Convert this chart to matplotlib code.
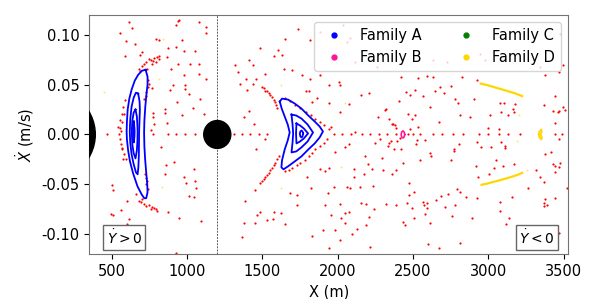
import matplotlib
matplotlib.use("Agg")
import matplotlib.pyplot as plt
from matplotlib.patches import Ellipse
from matplotlib.lines import Line2D

# bodies (x centre in m, half width in m, half height in m/s)
primary = (0, 390, 0.051)
secondary = (1200, 90, 0.014)

# chaotic sea, upper half (x m, xdot m/s)
chaos_up = [
    (613, .113), (637, .107), (551, .102), (591, .094), (653, .091), (697, .083), (586, .079), (684, .080),
    (936, .114), (949, .115), (929, .110), (1077, .113), (1122, .108), (1122, .102), (790, .096), (812, .095),
    (965, .095), (874, .087), (923, .088), (982, .084), (1055, .084), (863, .078), (814, .079),
    (679, .066), (712, .071), (745, .076), (779, .077), (812, .076), (790, .073), (767, .071), (734, .066),
    (700, .069), (725, .073), (757, .075), (800, .078), (690, .064), (770, .074),
    (890, .066), (938, .071), (1016, .071), (1077, .071), (978, .060), (1077, .061), (1122, .056), (767, .047),
    (741, .055), (737, .048), (724, .043), (712, .036), (745, .051), (730, .039),
    (905, .050), (989, .050), (984, .046), (885, .045), (933, .033), (1011, .041), (1082, .036), (1038, .027),
    (852, .026), (852, .022), (774, .022), (774, .018), (967, .020), (1115, .021), (779, .011), (863, .012),
    (757, .004), (580, .021), (568, .013), (553, .006), (562, .003), (542, .008), (553, .015), (564, .021),
    (586, .035), (575, .028), (548, .000),
    (1321, .070), (1338, .063), (1391, .056), (1348, .051), (1398, .045), (1376, .018),
    (1736, .106), (1653, .096), (1814, .095), (1482, .087), (1604, .085), (1630, .080), (1577, .079),
    (1414, .075), (1436, .070), (1646, .066), (1697, .065), (1520, .061), (1763, .060), (1885, .060),
    (1818, .056), (1940, .050), (2006, .053), (2015, .050), (1454, .056), (1438, .051),
    (1497, .048), (1531, .044), (1553, .040), (1575, .035), (1591, .030), (1510, .047), (1542, .042),
    (1564, .038), (1583, .033), (1600, .027), (1520, .044),
    (1790, .044), (1808, .044), (1863, .037), (1830, .033), (1940, .032), (2157, .040), (2205, .042),
    (2017, .023), (2073, .031), (2316, .025), (2410, .034), (2451, .043), (2423, .058), (2338, .016),
    (2383, .010), (2360, .011), (2113, .002), (1442, .011), (1409, .024),
    (1653, .037), (1719, .030), (1786, .023), (1852, .016), (1907, .010), (1940, .005), (1686, .034),
    (1752, .027), (1820, .020), (1880, .013), (1957, .008),
    (2531, .057), (2593, .059), (2633, .058), (2825, .058), (2924, .055), (2682, .048), (2752, .049),
    (2511, .045), (2482, .040), (2564, .039), (2648, .044), (2703, .042), (2781, .036), (2798, .032),
    (2902, .036), (2615, .028), (3080, .032), (3106, .032), (3175, .031), (3164, .026), (3130, .020),
    (3168, .023), (3086, .023), (3013, .020), (2876, .018), (2814, .020), (2515, .020), (2493, .016),
    (2670, .013), (2533, .008), (2997, .007), (3068, .005), (3367, .030), (3427, .024), (3467, .024),
    (3493, .028), (3440, .012), (3471, .063), (3378, .060), (3478, .101), (3440, .039),
    (2367, .011), (2389, .006), (2478, .005), (2500, .000), (2268, .018), (2319, .026), (2467, .021),
    (1880, .103), (2033, .110), (2080, .097), (2060, .093), (2113, .073), (2259, .068), (2630, .075),
    (2723, .073), (2942, .081), (2975, .075), (3341, .068), (3494, .070), (3507, .025), (3460, .023),
]

# chaotic sea, lower half
chaos_down = [
    (553, -.005), (564, -.015), (575, -.025), (560, -.010), (568, -.014), (580, -.020), (591, -.025),
    (823, -.013), (912, -.028), (857, -.031), (852, -.040), (1044, -.035), (982, -.043), (1051, -.047),
    (993, -.049), (1062, -.054), (1011, -.062), (1046, -.063), (498, -.051), (507, -.056), (602, -.067),
    (562, -.076), (491, -.080), (507, -.081), (613, -.085), (602, -.090), (874, -.078), (945, -.084),
    (1089, -.087), (923, -.119), (1387, -.067), (1378, -.089), (1361, -.103),
    (679, -.067), (712, -.070), (745, -.071), (779, -.074), (801, -.077), (757, -.075), (695, -.068),
    (728, -.072), (765, -.073), (790, -.075), (700, -.065),
    (728, -.044), (724, -.050), (741, -.055), (735, -.047), (720, -.040), (657, -.060),
    (1454, -.015), (1520, -.005),
    (1497, -.047), (1520, -.043), (1542, -.039), (1564, -.034), (1586, -.029), (1608, -.022), (1508, -.045),
    (1530, -.041), (1553, -.036), (1575, -.031), (1597, -.025), (1486, -.049),
    (1653, -.037), (1697, -.034), (1752, -.029), (1808, -.022), (1852, -.015), (1907, -.009), (1929, -.005),
    (1675, -.036), (1730, -.031), (1780, -.026), (1830, -.019), (1880, -.012),
    (1980, -.018), (2051, -.013), (2073, -.010), (1449, -.056), (1796, -.043), (1885, -.035), (1940, -.034),
    (1918, -.037), (1825, -.054), (1933, -.059), (1973, -.053), (2062, -.053), (2084, -.054), (2150, -.053),
    (2232, -.052), (2106, -.035), (2106, -.043), (2172, -.040), (2228, -.035), (2301, -.036), (2360, -.040),
    (2389, -.036), (2179, -.022), (2201, -.030), (2293, -.024), (2431, -.029), (2250, -.009), (2338, -.009),
    (2371, -.015), (2393, -.007), (2423, -.015), (2411, -.004), (2356, -.007), (2334, -.012), (2279, -.005),
    (1681, -.059), (1730, -.061), (1730, -.071), (1914, -.071), (2017, -.070), (2155, -.069), (2188, -.070),
    (2243, -.075), (2323, -.070), (2387, -.071), (2460, -.069), (1464, -.081), (1482, -.078), (1580, -.078),
    (1620, -.079), (1527, -.086), (1569, -.085), (1449, -.089), (1653, -.090), (1957, -.081), (2024, -.084),
    (2051, -.079), (2073, -.078), (2128, -.095), (2095, -.100), (2051, -.089), (2205, -.083), (2188, -.091),
    (2433, -.088), (2444, -.091), (1900, -.096), (1980, -.096), (1830, -.102), (2013, -.106), (1940, -.114),
    (2212, -.113),
    (2924, -.008), (2951, -.013), (3020, -.013), (3086, -.008), (3113, -.012), (3108, -.014), (2526, -.006),
    (2520, -.010), (2582, -.006), (2615, -.019), (2622, -.022), (2770, -.015), (2770, -.017), (2808, -.010),
    (2755, -.026), (2544, -.026), (3050, -.026), (2920, -.032), (3035, -.034), (3095, -.032), (3168, -.030),
    (2931, -.043), (3002, -.040), (3316, -.036), (3345, -.043), (3367, -.048), (3378, -.020), (3416, -.018),
    (3433, -.030), (3444, -.032), (3467, -.033), (3478, -.029), (3444, -.038), (3467, -.005), (3522, -.054),
    (3263, -.054), (3157, -.063), (3075, -.068), (3075, -.077), (3378, -.065), (3367, -.069), (3393, -.071),
    (3373, -.072), (3444, -.064), (2792, -.055), (2814, -.058), (2854, -.063), (2924, -.064), (2732, -.060),
    (2688, -.062), (2655, -.066), (2471, -.061), (2504, -.058), (2564, -.068), (2593, -.069), (2571, -.071),
    (2593, -.074), (2493, -.074), (2577, -.080), (2715, -.073), (2777, -.071), (2759, -.082), (2891, -.084),
    (2504, -.084), (2615, -.089), (3139, -.084), (3117, -.090), (2597, -.110), (2670, -.114), (2814, -.109),
    (3467, -.099), (2471, -.049),
]

# points of the sea that sit on xdot = 0
chaos_axis_x = [465, 770, 870, 925, 985, 1051, 1117, 1310, 1365, 1420, 1475, 1527, 1975, 2031, 2091,
                2164, 2217, 2274, 2327, 2389, 2469, 2546, 2635, 2690, 2763, 2835, 2935, 3001, 3068,
                3134, 3211, 3443, 3488]

# Family A: closed curves around the two islands
famA_loops = [
    [(724, .065), (737, .058), (737, .050), (730, .041), (722, .028), (716, .014), (714, .002),
     (716, -.012), (721, -.025), (728, -.038), (735, -.050), (737, -.058), (728, -.064), (715, -.064),
     (697, -.060), (670, -.052), (641, -.039), (620, -.027), (608, -.016), (600, -.005), (598, .003),
     (600, .013), (605, .025), (616, .036), (631, .045), (652, .054), (675, .060), (700, .064), (724, .065)],
    [(675, .041), (684, .033), (686, .025), (683, .012), (681, .003), (680, -.010), (679, -.022),
     (676, -.033), (671, -.040), (660, -.038), (645, -.030), (631, -.020), (622, -.008), (619, .003),
     (622, .015), (631, .028), (645, .037), (660, .042), (675, .041)],
    [(657, .025), (666, .018), (670, .008), (671, .003), (670, -.006), (666, -.016), (657, -.024),
     (645, -.019), (636, -.010), (632, .003), (636, .014), (645, .022), (657, .025)],
    [(646, .013), (650, .006), (651, .003), (650, -.002), (646, -.008), (642, -.002), (641, .003),
     (642, .008), (646, .013)],
    [(1615, .033), (1630, .036), (1670, .035), (1715, .031), (1759, .026), (1805, .019), (1847, .013),
     (1880, .008), (1902, .003), (1880, -.003), (1847, -.009), (1805, -.015), (1759, -.022),
     (1715, -.027), (1670, -.032), (1640, -.035), (1626, -.033), (1630, -.026), (1648, -.015),
     (1668, -.006), (1681, .002), (1668, .010), (1648, .018), (1628, .026), (1615, .033)],
    [(1693, .020), (1725, .019), (1759, .016), (1800, .010), (1836, .002), (1800, -.007), (1759, -.013),
     (1725, -.017), (1693, -.018), (1700, -.008), (1704, .001), (1700, .010), (1693, .020)],
    [(1726, .011), (1750, .009), (1775, .006), (1803, .001), (1775, -.004), (1750, -.007), (1726, -.009),
     (1723, .001), (1726, .011)],
    [(1770, .001), (1766, .003), (1759, .004), (1752, .003), (1748, .001), (1752, -.002), (1759, -.003),
     (1766, -.002), (1770, .001)],
]

# Family B: small ring
famB_x = [2445, 2441, 2433, 2425, 2421, 2425, 2433, 2441, 2445]
famB_y = [0, .0025, .0035, .0025, 0, -.0025, -.0035, -.0025, 0]

# Family C: short dash next to the primary
famC_x = [372, 372, 372]
famC_y = [.003, 0, -.003]

# Family D: two streaks, a small crescent and loose points
famD_upper_x = [2950, 2990, 3020, 3050, 3080, 3110, 3140, 3170, 3200, 3225]
famD_upper_y = [.051, .0497, .0484, .047, .0457, .0444, .043, .0417, .0400, .0385]
famD_lower_x = [2955, 2990, 3020, 3050, 3080, 3110, 3140, 3170, 3200, 3225]
famD_lower_y = [-.0505, -.0494, -.0482, -.047, -.0458, -.0445, -.0432, -.0418, -.0402, -.0385]
famD_cres_x = [3352, 3340, 3334, 3340, 3352, 3356, 3347, 3356]
famD_cres_y = [.005, .003, 0, -.003, -.005, -.003, 0, .003]
famD_loose = [(447, .043), (838, .096), (810, .056), (1620, .050), (2051, .032), (830, -.053),
              (1626, -.054), (2024, -.033), (3201, .020), (3256, -.036), (3190, -.007)]

fam_names = ["Family A", "Family B", "Family C", "Family D"]
fam_colors = ["blue", "deeppink", "green", "gold"]

fig = plt.figure(figsize=(5.98, 2.99), dpi=100)
ax = fig.add_axes([0.1493, 0.1505, 0.8007, 0.7995])

ax.axvline(secondary[0], color="0.35", ls=(0, (2, 1.2)), lw=0.7, zorder=1)

ax.scatter([p[0] for p in chaos_up], [p[1] for p in chaos_up], s=2.5, c="red", lw=0, zorder=2)
ax.scatter([p[0] for p in chaos_down], [p[1] for p in chaos_down], s=2.5, c="red", lw=0, zorder=2)
ax.scatter(chaos_axis_x, [0] * len(chaos_axis_x), s=2.5, c="red", lw=0, zorder=2)

for loop in famA_loops:
    ax.plot([p[0] for p in loop], [p[1] for p in loop], color=fam_colors[0], lw=1.3, zorder=3)
ax.plot(famB_x, famB_y, color=fam_colors[1], lw=1.2, zorder=3)
ax.plot(famC_x, famC_y, color=fam_colors[2], lw=1.5, zorder=3)
ax.plot(famD_upper_x, famD_upper_y, color=fam_colors[3], lw=1.6, zorder=3)
ax.plot(famD_lower_x, famD_lower_y, color=fam_colors[3], lw=1.6, zorder=3)
ax.plot(famD_cres_x, famD_cres_y, color=fam_colors[3], lw=1.3, zorder=3)
ax.scatter([p[0] for p in famD_loose], [p[1] for p in famD_loose], s=2, c=fam_colors[3], lw=0,
           alpha=0.6, zorder=2)

for cx, rx, ry in (primary, secondary):
    ax.add_patch(Ellipse((cx, 0), 2 * rx, 2 * ry, color="black", zorder=4))

ax.set_xlim(350, 3530)
ax.set_ylim(-0.12, 0.12)
ax.set_yticks([-0.10, -0.05, 0.00, 0.05, 0.10])
ax.set_xticks([500, 1000, 1500, 2000, 2500, 3000, 3500])
ax.yaxis.set_major_formatter(matplotlib.ticker.FormatStrFormatter("%.2f"))
ax.tick_params(labelsize=10.5)
ax.set_xlabel("X (m)", fontsize=10.5)
ax.set_ylabel(r"$\dot{X}$ (m/s)", fontsize=10.5)
for sp in ax.spines.values():
    sp.set_color("0.45")

handles = [Line2D([], [], ls="", marker="o", ms=3.5, color=c) for c in fam_colors]
ax.legend(handles, fam_names, loc="upper right", ncol=2, fontsize=10.5)

box = dict(boxstyle="square,pad=0.25", fc="white", ec="0.4", lw=1)
ax.text(0.036, 0.03, r"$\dot{Y}>0$", transform=ax.transAxes, ha="left", va="bottom",
        fontsize=10, bbox=box, zorder=5)
ax.text(0.972, 0.03, r"$\dot{Y}<0$", transform=ax.transAxes, ha="right", va="bottom",
        fontsize=10, bbox=box, zorder=5)

fig.savefig("out.png", dpi=100)
